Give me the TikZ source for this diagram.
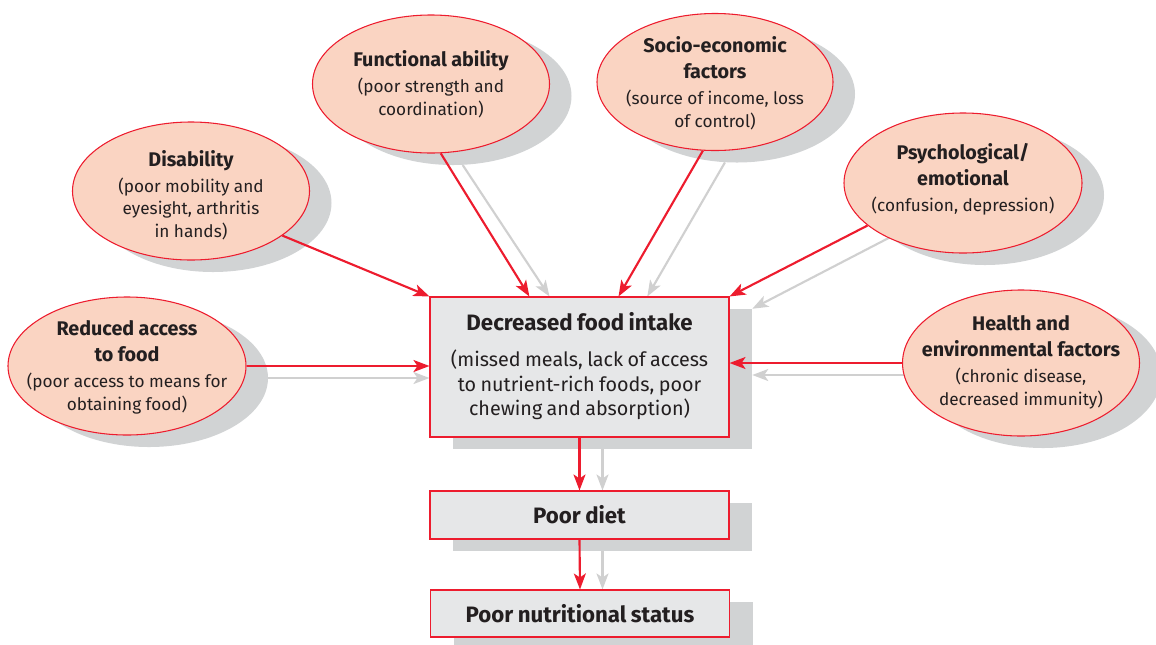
\documentclass[tikz,border=0pt]{standalone}
\usepackage{fontspec}
\setmainfont{Fira Sans}
\usetikzlibrary{arrows.meta,shapes.geometric,calc,backgrounds}
\definecolor{redc}{RGB}{237,28,46}
\definecolor{ellfill}{RGB}{250,212,194}
\definecolor{shadowc}{RGB}{209,211,212}
\definecolor{boxfill}{RGB}{230,231,232}
\definecolor{grayc}{RGB}{208,208,208}
\definecolor{textc}{RGB}{35,31,32}
\newcommand\mytitle[1]{{\fontsize{14.8}{19.5}\selectfont\bfseries #1\par}}
\newcommand\mysub[1]{\vspace{2.5pt}{\fontsize{12.9}{17}\selectfont #1\par}}
\newcommand\boxtitle[1]{{\fontsize{16.7}{20}\selectfont\bfseries #1\par}}
\newcommand\boxsub[1]{\vspace{9pt}{\fontsize{14.8}{18.4}\selectfont #1\par}}
\begin{document}
\begin{tikzpicture}[x=0.75pt,y=-0.75pt,
  ell/.style={ellipse, draw=redc, line width=0.8pt, fill=ellfill, inner sep=0pt},
  ellsh/.style={ellipse, fill=shadowc, inner sep=0pt},
  mbox/.style={rectangle, draw=redc, line width=0.8pt, fill=boxfill, inner sep=0pt, minimum width=224.25pt},
  mboxsh/.style={rectangle, fill=shadowc, inner sep=0pt, minimum width=224.25pt},
  txt/.style={align=center, text width=200pt, text=textc, inner sep=0pt},
  redarr/.style={draw=redc, line width=1.6pt, -{Stealth[length=12pt,width=9pt,inset=3pt]}},
  grayarr/.style={draw=grayc, line width=1.6pt, -{Stealth[length=12pt,width=9pt,inset=3pt]}}
]
\clip (0,0) rectangle (1156,644);
% shadows
\node[ellsh, minimum width=177.75pt, minimum height=103.5pt] (fa-s) at (453,96) {};
\node[ellsh, minimum width=177pt, minimum height=102.75pt] (se-s) at (737,94) {};
\node[ellsh, minimum width=177.75pt, minimum height=103.5pt] (di-s) at (213,203) {};
\node[ellsh, minimum width=178.5pt, minimum height=105pt] (ps-s) at (985,195) {};
\node[ellsh, minimum width=178.5pt, minimum height=103.5pt] (ra-s) at (149,378) {};
\node[ellsh, minimum width=177.75pt, minimum height=109.5pt] (he-s) at (1043,375) {};
\node[mboxsh, minimum height=105pt] (mainsh) at (602.5,379) {};
\node[mboxsh, minimum height=36pt] (dietsh) at (602.5,527) {};
\node[mboxsh, minimum height=35.25pt] (nutsh) at (603,625.5) {};
% ellipses
\node[ell, minimum width=177.75pt, minimum height=103.5pt] (fa) at (431,84) {};
\node[ell, minimum width=177pt, minimum height=102.75pt] (se) at (715,82) {};
\node[ell, minimum width=177.75pt, minimum height=103.5pt] (di) at (191,191) {};
\node[ell, minimum width=178.5pt, minimum height=105pt] (ps) at (963,183) {};
\node[ell, minimum width=178.5pt, minimum height=103.5pt] (ra) at (127,366) {};
\node[ell, minimum width=177.75pt, minimum height=109.5pt] (he) at (1021,363) {};
% boxes
\node[mbox, minimum height=105pt] (main) at (579.5,367) {};
\node[mbox, minimum height=36pt] (diet) at (579.5,515) {};
\node[mbox, minimum height=35.25pt] (nut) at (580,613.5) {};
% texts
\node[txt] (fa-t) at (431,84) {\mytitle{Functional ability}\mysub{(poor strength and\\coordination)}};
\node[txt] (se-t) at (715,83) {\mytitle{Socio-economic\\factors}\mysub{(source of income, loss\\of control)}};
\node[txt] (di-t) at (191,195) {\mytitle{Disability}\mysub{(poor mobility and\\eyesight, arthritis\\in hands)}};
\node[txt] (ps-t) at (963,179) {\mytitle{Psychological/\\emotional}\mysub{(confusion, depression)}};
\node[txt] (ra-t) at (127,367) {\mytitle{Reduced access\\to food}\mysub{(poor access to means for\\obtaining food)}};
\node[txt] (he-t) at (1021,362) {\mytitle{Health and\\environmental factors}\mysub{(chronic disease,\\decreased immunity)}};
\node[txt, text width=224pt] (main-t) at (579.5,366) {\boxtitle{Decreased food intake}\boxsub{(missed meals, lack of access\\to nutrient-rich foods, poor\\chewing and absorption)}};
\node[txt] (diet-t) at (diet) {\boxtitle{Poor diet}};
\node[txt] (nut-t) at (nut) {\boxtitle{Poor nutritional status}};
% gray arrows
\begin{pgfonlayer}{background}
\draw[grayarr] (fa-s.-82) -- ($(main.north west)!0.40!(main.north east)$);
\draw[grayarr] (se-s.-100) -- ($(main.north west)!0.726!(main.north east)$);
\draw[grayarr] (ps-s.-156.6) -- (mainsh.north east);
\draw[grayarr] (ra-s.east) -- (ra-s.east -| main.west);
\draw[grayarr] (he-s.west) -- (he-s.west -| mainsh.east);
\draw[grayarr] (mainsh.south) -- (mainsh.south |- diet.north);
\draw[grayarr] (dietsh.south) -- (dietsh.south |- nut.north);
\end{pgfonlayer}
% red arrows
\draw[redarr] (fa.-82.5) -- ($(main.north west)!0.333!(main.north east)$);
\draw[redarr] (se.-100) -- ($(main.north west)!0.63!(main.north east)$);
\draw[redarr] (di.-26) -- (main.north west);
\draw[redarr] (ps.-156.6) -- (main.north east);
\draw[redarr] (ra.east) -- (ra.east -| main.west);
\draw[redarr] (he.west) -- (he.west -| main.east);
\draw[redarr] (main.south) -- (diet.north);
\draw[redarr] (diet.south) -- (nut.north);
\end{tikzpicture}
\end{document}
